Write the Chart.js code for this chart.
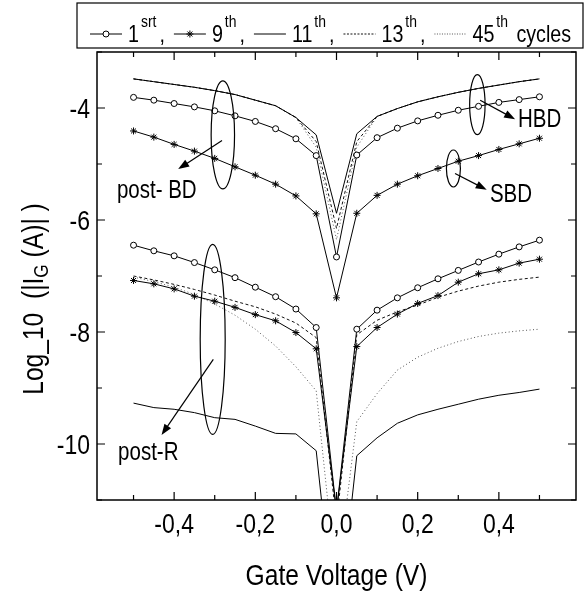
<!DOCTYPE html>
<html>
<head>
<meta charset="utf-8">
<script src="https://cdn.jsdelivr.net/npm/chart.js@4.4.1/dist/chart.umd.min.js"></script>
<style>
  html, body { margin: 0; padding: 0; background: #fff; }
  #wrap { width: 587px; height: 593px; }
</style>
</head>
<body>
<div id="wrap"><canvas id="ivChart" width="587" height="593"></canvas></div>
<script>
// gate voltage sweep (V)
const voltage = [-0.5, -0.45, -0.4, -0.35, -0.3, -0.25, -0.2, -0.15, -0.1, -0.05, 0,
                 0.05, 0.1, 0.15, 0.2, 0.25, 0.3, 0.35, 0.4, 0.45, 0.5];

// log10 |IG| after breakdown (upper family)
const bd1st  = [-3.81, -3.86, -3.92, -3.98, -4.05, -4.14, -4.24, -4.37, -4.55, -4.85, -6.66,
                -4.84, -4.53, -4.36, -4.23, -4.13, -4.04, -3.97, -3.90, -3.85, -3.80];
const bd9th  = [-4.41, -4.52, -4.65, -4.77, -4.90, -5.05, -5.20, -5.36, -5.57, -5.89, -7.39,
                -5.88, -5.56, -5.36, -5.21, -5.08, -4.95, -4.85, -4.74, -4.64, -4.54];
const bd11th = [-3.48, -3.53, -3.58, -3.63, -3.69, -3.76, -3.86, -3.96, -4.17, -4.48, -5.88,
                -4.46, -4.15, -4.01, -3.89, -3.80, -3.72, -3.65, -3.59, -3.53, -3.48];
const bd13th = [-3.48, -3.53, -3.58, -3.63, -3.69, -3.76, -3.86, -3.96, -4.17, -4.60, -6.15,
                -4.60, -4.15, -4.01, -3.89, -3.80, -3.72, -3.65, -3.59, -3.53, -3.48];
const bd45th = [-3.48, -3.53, -3.58, -3.63, -3.69, -3.76, -3.86, -3.96, -4.17, -4.70, -6.35,
                -4.70, -4.15, -4.01, -3.89, -3.80, -3.72, -3.65, -3.59, -3.53, -3.48];

// log10 |IG| after recovery (lower family)
const r1st  = [-6.45, -6.55, -6.64, -6.76, -6.89, -7.03, -7.20, -7.37, -7.59, -7.92, -11.2,
               -7.95, -7.61, -7.39, -7.21, -7.05, -6.90, -6.75, -6.61, -6.48, -6.36];
const r9th  = [-7.08, -7.14, -7.23, -7.36, -7.45, -7.56, -7.69, -7.80, -8.01, -8.30, -11.2,
               -8.26, -7.92, -7.68, -7.49, -7.35, -7.11, -6.96, -6.89, -6.77, -6.70];
const r11th = [-9.27, -9.35, -9.38, -9.44, -9.53, -9.56, -9.68, -9.81, -9.82, -10.12, -13.5,
               -10.21, -9.89, -9.63, -9.48, -9.38, -9.29, -9.20, -9.13, -9.08, -9.02];
const r13th = [-7.00, -7.07, -7.15, -7.24, -7.34, -7.45, -7.55, -7.68, -7.84, -8.10, -11.4,
               -8.05, -7.79, -7.64, -7.52, -7.38, -7.27, -7.18, -7.11, -7.06, -7.02];
const r45th = [-7.02, -7.10, -7.20, -7.33, -7.50, -7.70, -7.95, -8.25, -8.62, -9.05, -12.5,
               -9.60, -9.10, -8.68, -8.45, -8.29, -8.17, -8.08, -8.02, -7.98, -7.95];

const xMajor = [-0.4, -0.2, 0, 0.2, 0.4];
const xMinor = [-0.5, -0.3, -0.1, 0.1, 0.3, 0.5];
const yMajor = [-10, -8, -6, -4];
const yMinor = [-11, -9, -7, -5, -3];

const cycleNames = ['1', '9', '11', '13', '45'];
const cycleSups = ['srt', 'th', 'th', 'th', 'th'];

// no narrow face installed, so squeeze Liberation Sans horizontally
const FONT = "'Liberation Sans', Arial, sans-serif";
const SQUEEZE = 0.82;

const styles = [
  { pointStyle: 'circle', pointRadius: 3, dash: [], color: '#000' },
  { pointStyle: 'star', pointRadius: 3.5, dash: [], color: '#000' },
  { pointStyle: false, pointRadius: 0, dash: [], color: '#000' },
  { pointStyle: false, pointRadius: 0, dash: [3, 2.5], color: '#111' },
  { pointStyle: false, pointRadius: 0, dash: [1, 2.5], color: '#555' }
];

function series(values, i) {
  const s = styles[i];
  return {
    data: voltage.map((v, k) => ({ x: v, y: values[k] })),
    borderColor: s.color,
    borderWidth: 1,
    borderDash: s.dash,
    pointStyle: s.pointStyle,
    pointRadius: s.pointRadius,
    pointBackgroundColor: '#fff',
    pointBorderColor: '#000',
    pointBorderWidth: 1,
    tension: 0
  };
}

// annotations in data units: ellipses (rx/ry in px), arrows and labels
const ellipses = [
  { x: -0.280, y: -4.48, rx: 11.7, ry: 54 },
  { x: 0.347, y: -3.94, rx: 7.7, ry: 30 },
  { x: 0.288, y: -5.08, rx: 7, ry: 18.5 },
  { x: -0.305, y: -8.13, rx: 12.5, ry: 95 }
];
const arrows = [
  { x1: -0.282, y1: -4.58, x2: -0.390, y2: -5.09 },
  { x1: 0.354, y1: -3.86, x2: 0.440, y2: -4.20 },
  { x1: 0.292, y1: -5.17, x2: 0.370, y2: -5.46 },
  { x1: -0.3035, y1: -8.49, x2: -0.431, y2: -9.84 }
];
const labels = [
  { text: 'post- BD', x: -0.541, y: -5.61 },
  { text: 'HBD', x: 0.447, y: -4.34 },
  { text: 'SBD', x: 0.378, y: -5.67 },
  { text: 'post-R', x: -0.538, y: -10.29 }
];

function narrowText(ctx, text, x, y, size, align) {
  ctx.save();
  ctx.font = size + 'px ' + FONT;
  const w = ctx.measureText(text).width * SQUEEZE;
  let x0 = x;
  if (align === 'center') x0 = x - w / 2;
  if (align === 'right') x0 = x - w;
  ctx.translate(x0, y);
  ctx.scale(SQUEEZE, 1);
  ctx.textAlign = 'left';
  ctx.fillText(text, 0, 0);
  ctx.restore();
  return w;
}

function narrowWidth(ctx, text, size) {
  ctx.save();
  ctx.font = size + 'px ' + FONT;
  const w = ctx.measureText(text).width * SQUEEZE;
  ctx.restore();
  return w;
}

const decorations = {
  id: 'decorations',
  afterDatasetsDraw(chart) {
    const { ctx, chartArea: a, scales: { x, y } } = chart;
    ctx.save();
    ctx.strokeStyle = '#000';
    ctx.fillStyle = '#000';
    ctx.lineWidth = 1.5;
    ctx.strokeRect(a.left, a.top, a.right - a.left, a.bottom - a.top);

    // inward ticks on all four sides
    ctx.lineWidth = 1.2;
    const tickX = (vals, len) => {
      vals.forEach(v => {
        const px = x.getPixelForValue(v);
        ctx.beginPath();
        ctx.moveTo(px, a.bottom); ctx.lineTo(px, a.bottom - len);
        ctx.moveTo(px, a.top); ctx.lineTo(px, a.top + len);
        ctx.stroke();
      });
    };
    const tickY = (vals, len) => {
      vals.forEach(v => {
        const py = y.getPixelForValue(v);
        ctx.beginPath();
        ctx.moveTo(a.left, py); ctx.lineTo(a.left + len, py);
        ctx.moveTo(a.right, py); ctx.lineTo(a.right - len, py);
        ctx.stroke();
      });
    };
    tickX(xMajor, 8); tickX(xMinor, 5);
    tickY(yMajor, 8); tickY(yMinor, 5);

    // tick labels and x title
    ctx.textBaseline = 'alphabetic';
    xMajor.forEach(v => narrowText(ctx, v.toFixed(1).replace('.', ','), x.getPixelForValue(v), a.bottom + 33, 28, 'center'));
    yMajor.forEach(v => narrowText(ctx, String(v), a.left - 7, y.getPixelForValue(v) + 10, 28, 'right'));
    narrowText(ctx, 'Gate Voltage (V)', (a.left + a.right) / 2, 585, 30, 'center');

    // ellipses
    ctx.lineWidth = 1.2;
    ellipses.forEach(e => {
      ctx.beginPath();
      ctx.ellipse(x.getPixelForValue(e.x), y.getPixelForValue(e.y), e.rx, e.ry, 0, 0, Math.PI * 2);
      ctx.stroke();
    });
    // arrows
    arrows.forEach(r => {
      const x1 = x.getPixelForValue(r.x1), y1 = y.getPixelForValue(r.y1);
      const x2 = x.getPixelForValue(r.x2), y2 = y.getPixelForValue(r.y2);
      const ang = Math.atan2(y2 - y1, x2 - x1);
      const c = Math.cos(ang), s = Math.sin(ang);
      ctx.beginPath();
      ctx.moveTo(x1, y1); ctx.lineTo(x2 - 8 * c, y2 - 8 * s);
      ctx.stroke();
      ctx.beginPath();
      ctx.moveTo(x2, y2);
      ctx.lineTo(x2 - 11 * c + 4 * s, y2 - 11 * s - 4 * c);
      ctx.lineTo(x2 - 11 * c - 4 * s, y2 - 11 * s + 4 * c);
      ctx.closePath();
      ctx.fill();
    });
    labels.forEach(l => narrowText(ctx, l.text, x.getPixelForValue(l.x), y.getPixelForValue(l.y), 25, 'left'));
    ctx.restore();
  },
  afterDraw(chart) {
    const { ctx } = chart;
    ctx.save();
    ctx.fillStyle = '#000';
    ctx.strokeStyle = '#000';
    ctx.textBaseline = 'alphabetic';

    // legend box with superscripts
    ctx.lineWidth = 1.2;
    ctx.strokeRect(77, 3, 506, 45);
    let cx = 90;
    const base = 42;
    chart.data.datasets.slice(0, 5).forEach((ds, i) => {
      ctx.save();
      ctx.lineWidth = 1;
      ctx.strokeStyle = ds.borderColor;
      ctx.setLineDash(i === 3 ? [2, 1.5] : i === 4 ? [1, 1.5] : []);
      ctx.beginPath();
      ctx.moveTo(cx, 34); ctx.lineTo(cx + 32, 34);
      ctx.stroke();
      ctx.restore();
      if (ds.pointStyle) {
        ctx.save();
        ctx.fillStyle = '#fff';
        ctx.strokeStyle = '#000';
        ctx.lineWidth = 1;
        Chart.helpers.drawPoint(ctx, {
          pointStyle: ds.pointStyle, radius: ds.pointRadius, borderWidth: 1
        }, cx + 16, 34);
        ctx.restore();
      }
      cx += 32 + 6;
      cx += narrowText(ctx, cycleNames[i], cx, base, 24, 'left') + 2;
      cx += narrowText(ctx, cycleSups[i], cx, base - 15, 17, 'left') + 3;
      const tail = i < 4 ? ',' : ' cycles';
      cx += narrowText(ctx, tail, cx, base, 24, 'left') + 9;
    });

    // y axis title with subscript
    ctx.translate(33, 299);
    ctx.rotate(-Math.PI / 2);
    const parts = [['Log_10  (|I', 30, 0], ['G', 21, 5], [' (A)| )', 30, 0]];
    let w = 0;
    parts.forEach(p => { w += narrowWidth(ctx, p[0], p[1]); });
    let tx = -w / 2;
    parts.forEach(p => {
      tx += narrowText(ctx, p[0], tx, 10 + p[2], p[1], 'left');
    });
    ctx.restore();
  }
};

const allBd = [bd1st, bd9th, bd11th, bd13th, bd45th];
const allR = [r1st, r9th, r11th, r13th, r45th];
const datasets = allBd.map((d, i) => series(d, i)).concat(allR.map((d, i) => series(d, i)));

new Chart(document.getElementById('ivChart'), {
  type: 'line',
  data: { datasets },
  options: {
    responsive: false,
    animation: false,
    layout: { padding: { left: 0, right: 11, top: 52, bottom: 0 } },
    plugins: { legend: { display: false }, tooltip: { enabled: false } },
    scales: {
      x: {
        type: 'linear', min: -0.59, max: 0.59,
        grid: { display: false, drawTicks: false },
        border: { display: false },
        afterBuildTicks: s => { s.ticks = xMajor.map(v => ({ value: v })); },
        afterFit: s => { s.height = 93; },
        ticks: { display: false }
      },
      y: {
        type: 'linear', min: -11, max: -3,
        grid: { display: false, drawTicks: false },
        border: { display: false },
        afterBuildTicks: s => { s.ticks = yMajor.map(v => ({ value: v })); },
        afterFit: s => { s.width = 97; },
        ticks: { display: false }
      }
    }
  },
  plugins: [decorations]
});
</script>
</body>
</html>
